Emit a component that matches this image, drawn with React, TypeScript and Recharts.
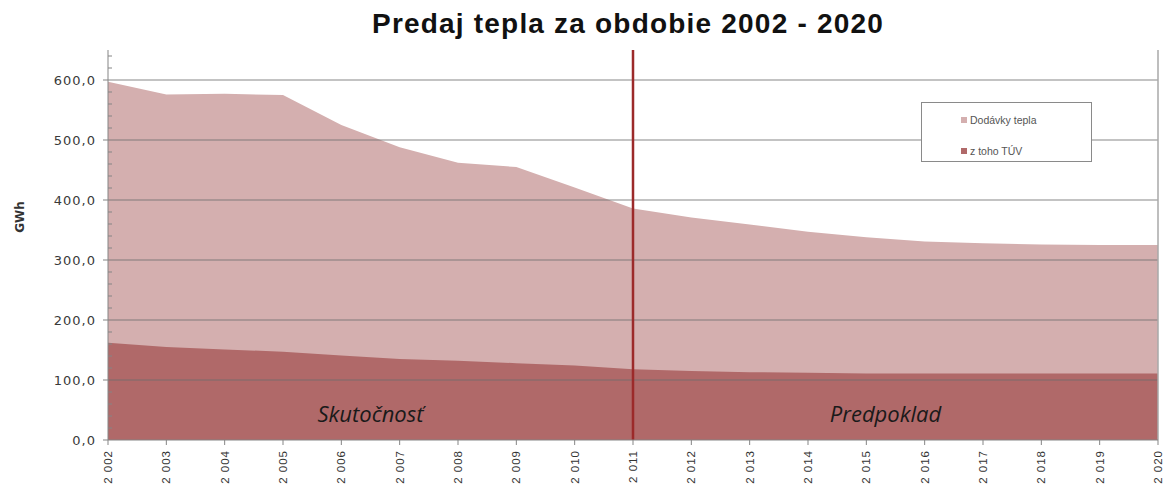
import {
  Area,
  AreaChart,
  Legend,
  ReferenceArea,
  ReferenceLine,
  XAxis,
  YAxis,
} from "recharts";

const years = [
  "2 002", "2 003", "2 004", "2 005", "2 006", "2 007", "2 008", "2 009", "2 010", "2 011",
  "2 012", "2 013", "2 014", "2 015", "2 016", "2 017", "2 018", "2 019", "2 020",
];
const dodavkyTepla = [597, 576, 577, 575, 525, 488, 462, 455, 421, 386, 371, 359, 347, 338, 331, 328, 326, 325, 325];
const zTohoTuv = [162, 155, 151, 147, 141, 135, 132, 128, 124, 118, 115, 113, 112, 111, 111, 111, 111, 111, 111];

const majorTicks = [0, 100, 200, 300, 400, 500, 600];
const allTicks = [
  0, 20, 40, 60, 80, 100, 120, 140, 160, 180, 200, 220, 240, 260, 280, 300, 320, 340, 360, 380,
  400, 420, 440, 460, 480, 500, 520, 540, 560, 580, 600, 620, 640,
];

const LIGHT = "#d4afaf";
const DARK = "#b06969";
const AXIS = "#858585";
const FONT = "'Liberation Sans', Arial, sans-serif";
const WIDE = "'DejaVu Sans', sans-serif";

const data = years.map((year, i) => ({
  year,
  dodavky: dodavkyTepla[i],
  tuv: zTohoTuv[i],
}));

const fmt = (v: number) => v.toFixed(1).replace(".", ",");

// major ticks point out with a label, minor ticks point into the plot
function ValueTick({ x, y, payload }: any) {
  const v = payload.value as number;
  if (majorTicks.includes(v)) {
    return (
      <g>
        <line x1={x - 5} x2={x} y1={y} y2={y} stroke={AXIS} />
        <text x={x - 12} y={y} textAnchor="end" dominantBaseline="central" fontSize={13} letterSpacing={1} fill="#3a3a3a" fontFamily={WIDE}>
          {fmt(v)}
        </text>
      </g>
    );
  }
  return <line x1={x} x2={x + 4} y1={y} y2={y} stroke={AXIS} />;
}

function YearTick({ x, y, payload }: any) {
  const ty = y + 3;
  return (
    <text
      x={x}
      y={ty}
      transform={`rotate(-90 ${x} ${ty})`}
      textAnchor="end"
      dominantBaseline="central"
      fontSize={11.5}
      letterSpacing={1}
      fill="#333"
      fontFamily={FONT}
    >
      {payload.value}
    </text>
  );
}

function LegendBox({ payload }: any) {
  return (
    <div
      style={{
        width: 171,
        height: 60,
        boxSizing: "border-box",
        border: "1.5px solid #8a8a8a",
        background: "#fff",
        fontFamily: FONT,
        fontSize: 10.5,
        color: "#555",
        paddingTop: 9,
        paddingLeft: 39,
      }}
    >
      {(payload || []).map((p: any) => (
        <div key={p.value} style={{ display: "flex", alignItems: "center", height: 15, marginBottom: 16 }}>
          <span style={{ width: 6, height: 6, background: p.color, marginRight: 3, display: "inline-block" }} />
          {p.value}
        </div>
      ))}
    </div>
  );
}

export default function App() {
  return (
    <div style={{ position: "absolute", left: 0, top: 0, width: 1163, height: 486, background: "#fff" }}>
      <div
        style={{
          position: "absolute",
          left: 0,
          top: 8,
          width: 1256,
          textAlign: "center",
          fontFamily: FONT,
          fontWeight: "bold",
          fontSize: 28,
          letterSpacing: 1.2,
          color: "#111",
        }}
      >
        Predaj tepla za obdobie 2002 - 2020
      </div>
      <AreaChart width={1163} height={486} data={data} margin={{ top: 50, right: 5, left: 0, bottom: 0 }}>
        <XAxis
          dataKey="year"
          interval={0}
          height={46}
          tickSize={5}
          tickLine={{ stroke: AXIS }}
          axisLine={{ stroke: AXIS }}
          tick={<YearTick />}
        />
        <YAxis
          type="number"
          domain={[0, 650]}
          ticks={allTicks}
          interval={0}
          width={108}
          tickSize={0}
          tickMargin={0}
          tickLine={false}
          axisLine={{ stroke: AXIS }}
          tick={<ValueTick />}
          label={{
            value: "GWh",
            content: ({ viewBox }: any) => (
              <text
                x={viewBox.x + 20}
                y={viewBox.y + viewBox.height / 2 - 28}
                transform={`rotate(-90 ${viewBox.x + 20} ${viewBox.y + viewBox.height / 2 - 28})`}
                textAnchor="middle"
                dominantBaseline="central"
                fontSize={12}
                fontWeight="bold"
                fill="#333"
                fontFamily={WIDE}
              >
                GWh
              </text>
            ),
          }}
        />
        <Area
          type="linear"
          dataKey="dodavky"
          name="Dodávky tepla"
          stroke="none"
          fill={LIGHT}
          fillOpacity={1}
          dot={false}
          activeDot={false}
          isAnimationActive={false}
        />
        <Area
          type="linear"
          dataKey="tuv"
          name="z toho TÚV"
          stroke="none"
          fill={DARK}
          fillOpacity={1}
          dot={false}
          activeDot={false}
          isAnimationActive={false}
        />
        {majorTicks
          .filter((v) => v > 0)
          .map((v) => (
            <ReferenceLine key={v} y={v} stroke="#6e6e6e" strokeOpacity={0.55} strokeWidth={1.5} />
          ))}
        <ReferenceLine x="2 020" stroke="#a8a8a8" strokeWidth={1.5} />
        <ReferenceArea
          x1="2 002"
          x2="2 011"
          y1={0}
          y2={85}
          fillOpacity={0}
          strokeOpacity={0}
          label={{ value: "Skutočnosť", position: "center", fill: "#1a1a1a", fontSize: 22, fontStyle: "italic", fontFamily: "'Open Sans', sans-serif" }}
        />
        <ReferenceArea
          x1="2 011"
          x2="2 020"
          y1={0}
          y2={85}
          fillOpacity={0}
          strokeOpacity={0}
          label={{ value: "Predpoklad", position: "center", dx: -10, fill: "#1a1a1a", fontSize: 22, fontStyle: "italic", fontFamily: "'Open Sans', sans-serif" }}
        />
        <ReferenceLine x="2 011" stroke="#9c2a2a" strokeWidth={2.5} />
        <Legend
          layout="vertical"
          align="center"
          verticalAlign="middle"
          content={<LegendBox />}
          wrapperStyle={{ position: "absolute", left: 921, top: 102, width: 171, height: 60 }}
        />
      </AreaChart>
    </div>
  );
}
